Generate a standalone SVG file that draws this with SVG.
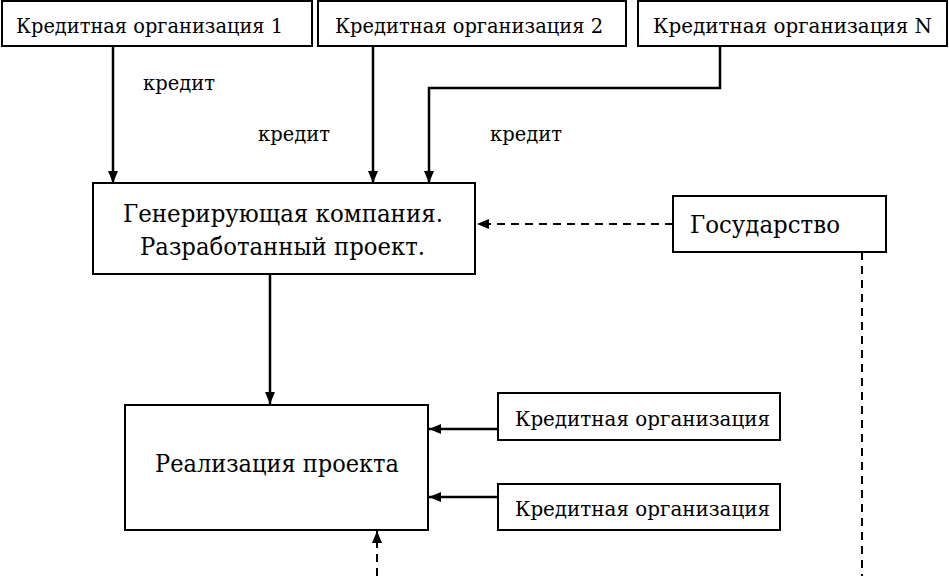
<svg xmlns="http://www.w3.org/2000/svg" width="949" height="576" viewBox="0 0 949 576">
<style>
.box{fill:#fff;stroke:#000;stroke-width:2}
.t{font-family:"DejaVu Serif","Liberation Serif",serif;fill:#000}
.s{font-size:20.5px}
.b{font-size:25px}
.ln{fill:none;stroke:#000;stroke-width:2.5}
.ds{fill:none;stroke:#000;stroke-width:2;stroke-dasharray:8,6}
</style>
<defs>
<marker id="ah" markerWidth="14" markerHeight="12" refX="12" refY="5" orient="auto" markerUnits="userSpaceOnUse">
<path d="M0,0 L12,5 L0,10 Z" fill="#000"/>
</marker>
</defs>
<rect width="949" height="576" fill="#fff"/>
<g id="org1"><rect class="box" x="2" y="1" width="310" height="45"/><text class="t s" x="16" y="33" textLength="267" lengthAdjust="spacingAndGlyphs">Кредитная организация 1</text></g>
<g id="org2"><rect class="box" x="318" y="1" width="308" height="45"/><text class="t s" x="335" y="33" textLength="268" lengthAdjust="spacingAndGlyphs">Кредитная организация 2</text></g>
<g id="orgN"><rect class="box" x="638" y="1" width="309" height="45"/><text class="t s" x="653" y="33" textLength="279" lengthAdjust="spacingAndGlyphs">Кредитная организация N</text></g>
<g id="gen"><rect class="box" x="93" y="183" width="382" height="91"/>
<text class="t b" x="123" y="222" textLength="320" lengthAdjust="spacingAndGlyphs">Генерирующая компания.</text>
<text class="t b" x="140" y="255" textLength="285" lengthAdjust="spacingAndGlyphs">Разработанный проект.</text></g>
<g id="gos"><rect class="box" x="673" y="196" width="213" height="56"/><text class="t b" x="690" y="233" textLength="150" lengthAdjust="spacingAndGlyphs">Государство</text></g>
<g id="real"><rect class="box" x="125" y="405" width="303" height="125"/><text class="t b" x="155" y="472" textLength="244" lengthAdjust="spacingAndGlyphs">Реализация проекта</text></g>
<g id="orgA"><rect class="box" x="498" y="393" width="282" height="47"/><text class="t s" x="515" y="426" textLength="255" lengthAdjust="spacingAndGlyphs">Кредитная организация</text></g>
<g id="orgB"><rect class="box" x="498" y="484" width="282" height="46"/><text class="t s" x="515" y="516" textLength="255" lengthAdjust="spacingAndGlyphs">Кредитная организация</text></g>
<g id="connectors">
<path class="ln" d="M113,46 V183" marker-end="url(#ah)"/>
<path class="ln" d="M373,46 V183" marker-end="url(#ah)"/>
<path class="ln" d="M720,46 V88 H429 V183" marker-end="url(#ah)"/>
<path class="ds" d="M673,224 H477" marker-end="url(#ah)"/>
<path class="ds" d="M862,252 V576"/>
<path class="ln" d="M270,274 V404" marker-end="url(#ah)"/>
<path class="ln" d="M498,429 H429" marker-end="url(#ah)"/>
<path class="ln" d="M498,497 H429" marker-end="url(#ah)"/>
<path class="ds" d="M377,576 V531" marker-end="url(#ah)"/>
<text class="t s" x="143" y="90" textLength="72" lengthAdjust="spacingAndGlyphs">кредит</text>
<text class="t s" x="258" y="141" textLength="72" lengthAdjust="spacingAndGlyphs">кредит</text>
<text class="t s" x="490" y="141" textLength="72" lengthAdjust="spacingAndGlyphs">кредит</text>
</g>
</svg>
